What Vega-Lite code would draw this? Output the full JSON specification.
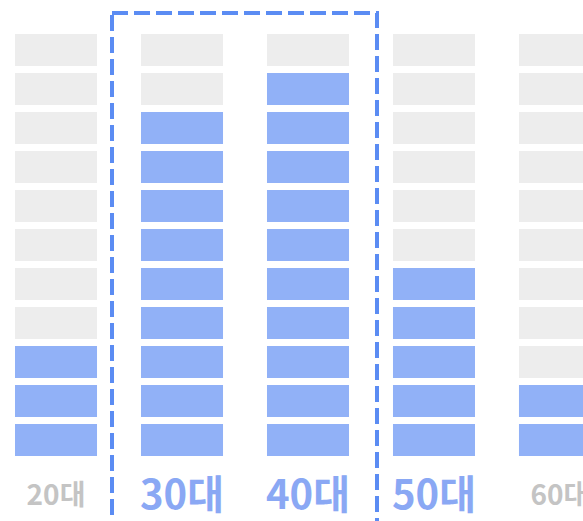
{
  "$schema": "https://vega.github.io/schema/vega-lite/v6.json",
  "width": 583,
  "height": 490,
  "autosize": {"type": "none"},
  "padding": {"top": 0, "left": 0, "right": 0, "bottom": 31},
  "background": "white",
  "config": {"view": {"stroke": null}},
  "layer": [
    {
      "data": {"values": [
        {"age": "20대", "slot": 1, "state": "on"}, {"age": "20대", "slot": 2, "state": "on"}, {"age": "20대", "slot": 3, "state": "on"},
        {"age": "20대", "slot": 4, "state": "off"}, {"age": "20대", "slot": 5, "state": "off"}, {"age": "20대", "slot": 6, "state": "off"},
        {"age": "20대", "slot": 7, "state": "off"}, {"age": "20대", "slot": 8, "state": "off"}, {"age": "20대", "slot": 9, "state": "off"},
        {"age": "20대", "slot": 10, "state": "off"}, {"age": "20대", "slot": 11, "state": "off"},
        {"age": "30대", "slot": 1, "state": "on"}, {"age": "30대", "slot": 2, "state": "on"}, {"age": "30대", "slot": 3, "state": "on"},
        {"age": "30대", "slot": 4, "state": "on"}, {"age": "30대", "slot": 5, "state": "on"}, {"age": "30대", "slot": 6, "state": "on"},
        {"age": "30대", "slot": 7, "state": "on"}, {"age": "30대", "slot": 8, "state": "on"}, {"age": "30대", "slot": 9, "state": "on"},
        {"age": "30대", "slot": 10, "state": "off"}, {"age": "30대", "slot": 11, "state": "off"},
        {"age": "40대", "slot": 1, "state": "on"}, {"age": "40대", "slot": 2, "state": "on"}, {"age": "40대", "slot": 3, "state": "on"},
        {"age": "40대", "slot": 4, "state": "on"}, {"age": "40대", "slot": 5, "state": "on"}, {"age": "40대", "slot": 6, "state": "on"},
        {"age": "40대", "slot": 7, "state": "on"}, {"age": "40대", "slot": 8, "state": "on"}, {"age": "40대", "slot": 9, "state": "on"},
        {"age": "40대", "slot": 10, "state": "on"}, {"age": "40대", "slot": 11, "state": "off"},
        {"age": "50대", "slot": 1, "state": "on"}, {"age": "50대", "slot": 2, "state": "on"}, {"age": "50대", "slot": 3, "state": "on"},
        {"age": "50대", "slot": 4, "state": "on"}, {"age": "50대", "slot": 5, "state": "on"}, {"age": "50대", "slot": 6, "state": "off"},
        {"age": "50대", "slot": 7, "state": "off"}, {"age": "50대", "slot": 8, "state": "off"}, {"age": "50대", "slot": 9, "state": "off"},
        {"age": "50대", "slot": 10, "state": "off"}, {"age": "50대", "slot": 11, "state": "off"},
        {"age": "60대", "slot": 1, "state": "on"}, {"age": "60대", "slot": 2, "state": "on"}, {"age": "60대", "slot": 3, "state": "off"},
        {"age": "60대", "slot": 4, "state": "off"}, {"age": "60대", "slot": 5, "state": "off"}, {"age": "60대", "slot": 6, "state": "off"},
        {"age": "60대", "slot": 7, "state": "off"}, {"age": "60대", "slot": 8, "state": "off"}, {"age": "60대", "slot": 9, "state": "off"},
        {"age": "60대", "slot": 10, "state": "off"}, {"age": "60대", "slot": 11, "state": "off"}
      ]},
      "mark": {"type": "rect"},
      "encoding": {
        "x": {
          "field": "age", "type": "nominal",
          "scale": {"domain": ["20대", "30대", "40대", "50대", "60대"], "range": [15, 601], "paddingInner": 0.349, "paddingOuter": 0},
          "axis": {
            "title": null, "domain": false, "ticks": false, "labelAngle": 0,
            "labelPadding": 6, "labelBaseline": "middle", "labelOverlap": false, "labelBound": false, "labelFlush": false,
            "labelFont": "Noto Sans CJK KR", "labelFontWeight": "bold",
            "labelFontSize": {"expr": "indexof(['30대','40대','50대'], datum.value) >= 0 ? 40 : 28"},
            "labelColor": {"expr": "indexof(['30대','40대','50대'], datum.value) >= 0 ? '#8aa8f4' : '#c4c4c4'"}
          }
        },
        "y": {
          "field": "slot", "type": "ordinal",
          "scale": {"domain": [11, 10, 9, 8, 7, 6, 5, 4, 3, 2, 1], "paddingInner": 0.18, "paddingOuter": 0.872},
          "axis": null
        },
        "color": {
          "field": "state", "type": "nominal",
          "scale": {"domain": ["on", "off"], "range": ["#91b1f7", "#ededed"]},
          "legend": null
        }
      }
    },
    {
      "data": {"values": [{"group": "highlight"}]},
      "mark": {"type": "rect", "fill": null, "stroke": "#5b8cf3", "strokeWidth": 4, "strokeDash": [16, 6],
               "xOffset": -70, "x2Offset": 69, "yOffset": -37, "y2Offset": 120},
      "encoding": {
        "x": {"datum": "30대", "type": "nominal"},
        "x2": {"datum": "40대"},
        "y": {"datum": 11, "type": "ordinal"},
        "y2": {"datum": 1}
      }
    }
  ]
}
